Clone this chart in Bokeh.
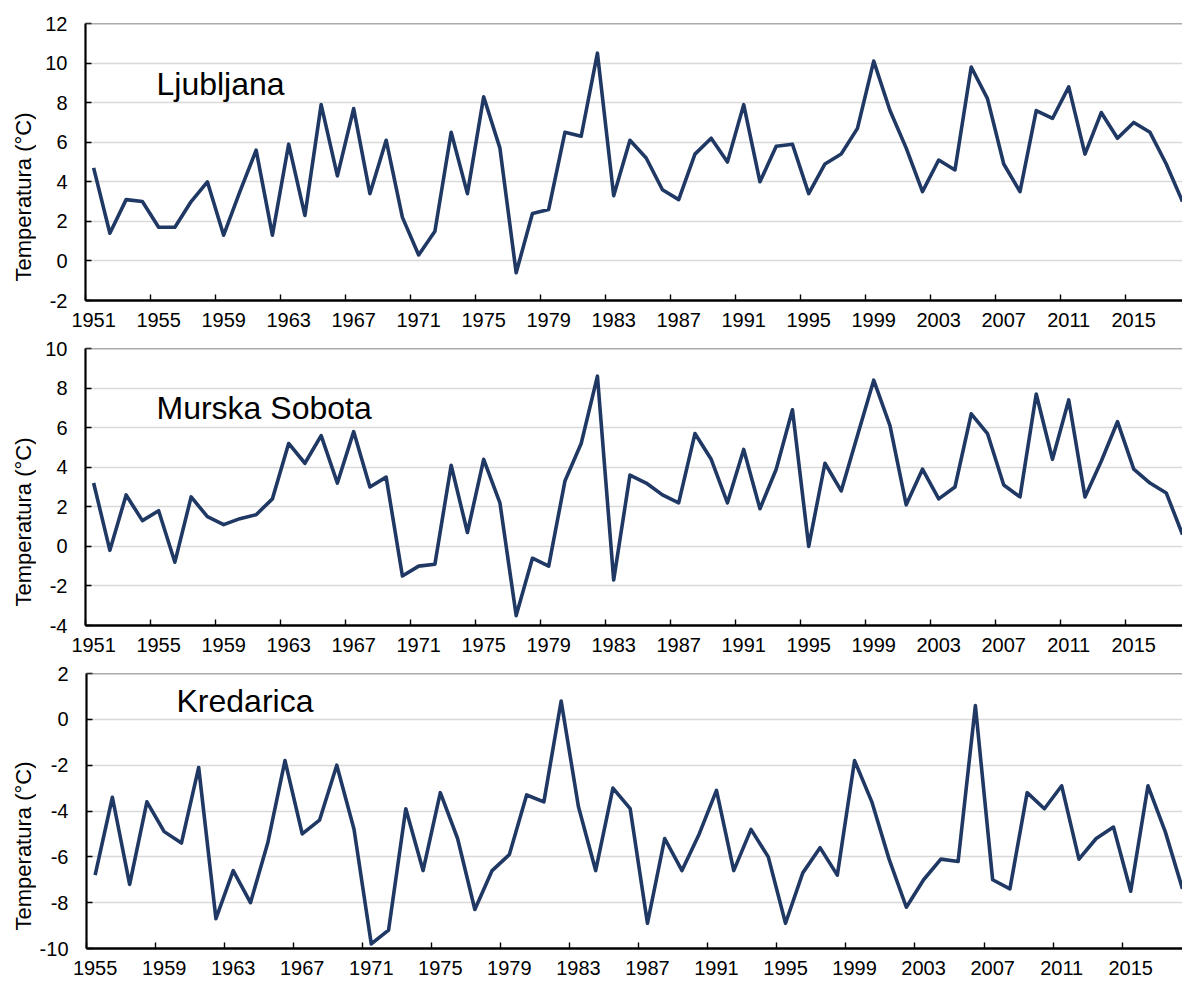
import math
from bokeh.plotting import figure
from bokeh.layouts import column, row
from bokeh.models import FixedTicker, Label, Span
from bokeh.embed import file_html
from bokeh.resources import INLINE

# ---------------- data ----------------
LJ_YEARS = list(range(1951, 2019))
LJ_TEMPS = [4.7, 1.4, 3.1, 3.0, 1.7, 1.7, 3.0, 4.0, 1.3, 3.5,
            5.6, 1.3, 5.9, 2.3, 7.9, 4.3, 7.7, 3.4, 6.1, 2.2,
            0.3, 1.5, 6.5, 3.4, 8.3, 5.7, -0.6, 2.4, 2.6, 6.5,
            6.3, 10.5, 3.3, 6.1, 5.2, 3.6, 3.1, 5.4, 6.2, 5.0,
            7.9, 4.0, 5.8, 5.9, 3.4, 4.9, 5.4, 6.7, 10.1, 7.6,
            5.7, 3.5, 5.1, 4.6, 9.8, 8.2, 4.9, 3.5, 7.6, 7.2,
            8.8, 5.4, 7.5, 6.2, 7.0, 6.5, 4.9, 3.0]

MS_YEARS = list(range(1951, 2019))
MS_TEMPS = [3.2, -0.2, 2.6, 1.3, 1.8, -0.8, 2.5, 1.5, 1.1, 1.4,
            1.6, 2.4, 5.2, 4.2, 5.6, 3.2, 5.8, 3.0, 3.5, -1.5,
            -1.0, -0.9, 4.1, 0.7, 4.4, 2.2, -3.5, -0.6, -1.0, 3.3,
            5.2, 8.6, -1.7, 3.6, 3.2, 2.6, 2.2, 5.7, 4.4, 2.2,
            4.9, 1.9, 3.9, 6.9, 0.0, 4.2, 2.8, 5.6, 8.4, 6.1,
            2.1, 3.9, 2.4, 3.0, 6.7, 5.7, 3.1, 2.5, 7.7, 4.4,
            7.4, 2.5, 4.3, 6.3, 3.9, 3.2, 2.7, 0.6]

KR_YEARS = list(range(1955, 2019))
KR_TEMPS = [-6.8, -3.4, -7.2, -3.6, -4.9, -5.4, -2.1, -8.7, -6.6, -8.0,
            -5.4, -1.8, -5.0, -4.4, -2.0, -4.8, -9.8, -9.2, -3.9, -6.6,
            -3.2, -5.2, -8.3, -6.6, -5.9, -3.3, -3.6, 0.8, -3.8, -6.6,
            -3.0, -3.9, -8.9, -5.2, -6.6, -5.0, -3.1, -6.6, -4.8, -6.0,
            -8.9, -6.7, -5.6, -6.8, -1.8, -3.6, -6.1, -8.2, -7.0, -6.1,
            -6.2, 0.6, -7.0, -7.4, -3.2, -3.9, -2.9, -6.1, -5.2, -4.7,
            -7.5, -2.9, -4.9, -7.4]

LJ_XLABELS = LJ_YEARS[::4]
MS_XLABELS = MS_YEARS[::4]
KR_XLABELS = KR_YEARS[::4]

LJ_YTICKS = [-2, 0, 2, 4, 6, 8, 10, 12]
MS_YTICKS = [-4, -2, 0, 2, 4, 6, 8, 10]
KR_YTICKS = [-10, -8, -6, -4, -2, 0, 2]

NAMES = ["Ljubljana", "Murska Sobota", "Kredarica"]
Y_TITLE = "Temperatura (°C)"

# ---------------- style ----------------
FONT = "Liberation Sans"
LINE_COLOR = "#203864"
TOTAL_W = 1182
TITLE_W = 36


def panel(years, temps, xlabels, yticks, name, name_dx, name_y,
          b_top, frame_h, b_bottom, left):
    height = b_top + frame_h + b_bottom
    x0 = years[0] - 0.5
    x1 = years[-1]
    y0, y1 = yticks[0], yticks[-1]
    ppy = frame_h / (y1 - y0)

    # narrow strip that carries the rotated axis title
    t = figure(width=TITLE_W, height=height, x_range=(0, TITLE_W), y_range=(y0, y1),
               output_backend="svg", toolbar_location=None,
               x_axis_location=None, y_axis_location=None,
               min_border_left=0, min_border_right=0,
               min_border_top=b_top, min_border_bottom=b_bottom)
    t.outline_line_color = None
    t.grid.visible = False
    t.add_layout(Label(x=23, y=(y0 + y1) / 2 - 35 / ppy, text=Y_TITLE,
                       angle=math.pi / 2, text_font=FONT, text_font_size="22px",
                       text_color="black", text_align="center", text_baseline="middle"))

    w = TOTAL_W - TITLE_W
    p = figure(width=w, height=height, x_range=(x0, x1), y_range=(y0, y1),
               output_backend="svg", toolbar_location=None,
               min_border_left=left, min_border_right=0,
               min_border_top=b_top, min_border_bottom=b_bottom)
    p.outline_line_color = None

    # x axis: labels at category centres, tick marks at category boundaries
    bounds = [y - 0.5 for y in xlabels]
    p.xaxis.ticker = FixedTicker(ticks=xlabels, minor_ticks=bounds)
    p.xaxis.major_label_overrides = {y: str(y) for y in xlabels}
    p.xaxis.major_tick_in = 0
    p.xaxis.major_tick_out = 0
    p.xaxis.minor_tick_in = 6
    p.xaxis.minor_tick_out = 0
    p.xaxis.minor_tick_line_color = "black"
    p.xaxis.minor_tick_line_width = 1.4
    p.xaxis.axis_line_color = "black"
    p.xaxis.axis_line_width = 2.4
    p.xaxis.major_label_text_font = FONT
    p.xaxis.major_label_text_font_size = "20px"
    p.xaxis.major_label_text_color = "black"
    p.xaxis.major_label_standoff = 12

    p.yaxis.ticker = FixedTicker(ticks=yticks)
    p.yaxis.major_label_overrides = {v: str(v) for v in yticks}
    p.yaxis.major_tick_in = 6
    p.yaxis.major_tick_out = 0
    p.yaxis.major_tick_line_color = "black"
    p.yaxis.major_tick_line_width = 1.4
    p.yaxis.minor_tick_line_color = None
    p.yaxis.axis_line_color = "black"
    p.yaxis.axis_line_width = 2.2
    p.yaxis.major_label_text_font = FONT
    p.yaxis.major_label_text_font_size = "20px"
    p.yaxis.major_label_text_color = "black"
    p.yaxis.major_label_standoff = 18

    p.xgrid.grid_line_color = None
    p.ygrid.ticker = FixedTicker(ticks=yticks)
    p.ygrid.grid_line_color = "#D9D9D9"
    p.ygrid.grid_line_width = 1.3

    p.add_layout(Span(location=y1, dimension="width", line_color="#595959", line_width=1.6))

    p.line(years, temps, line_color=LINE_COLOR, line_width=3.6, line_join="round")

    ppx = (w - left) / (x1 - x0)
    p.add_layout(Label(x=x0 + name_dx / ppx, y=name_y, text=name,
                       text_font=FONT, text_font_size="32px", text_color="black",
                       text_align="left", text_baseline="alphabetic"))
    return row(t, p, spacing=0)


r1 = panel(LJ_YEARS, LJ_TEMPS, LJ_XLABELS, LJ_YTICKS, NAMES[0], 71, 8.95, 23, 277, 36, 49)
r2 = panel(MS_YEARS, MS_TEMPS, MS_XLABELS, MS_YTICKS, NAMES[1], 71, 7.0, 12, 277, 36, 49)
r3 = panel(KR_YEARS, KR_TEMPS, KR_XLABELS, KR_YTICKS, NAMES[2], 90, 0.78, 12, 275, 35, 50)

layout = column(r1, r2, r3, spacing=0)
open("out.html", "w").write(file_html(layout, INLINE))
